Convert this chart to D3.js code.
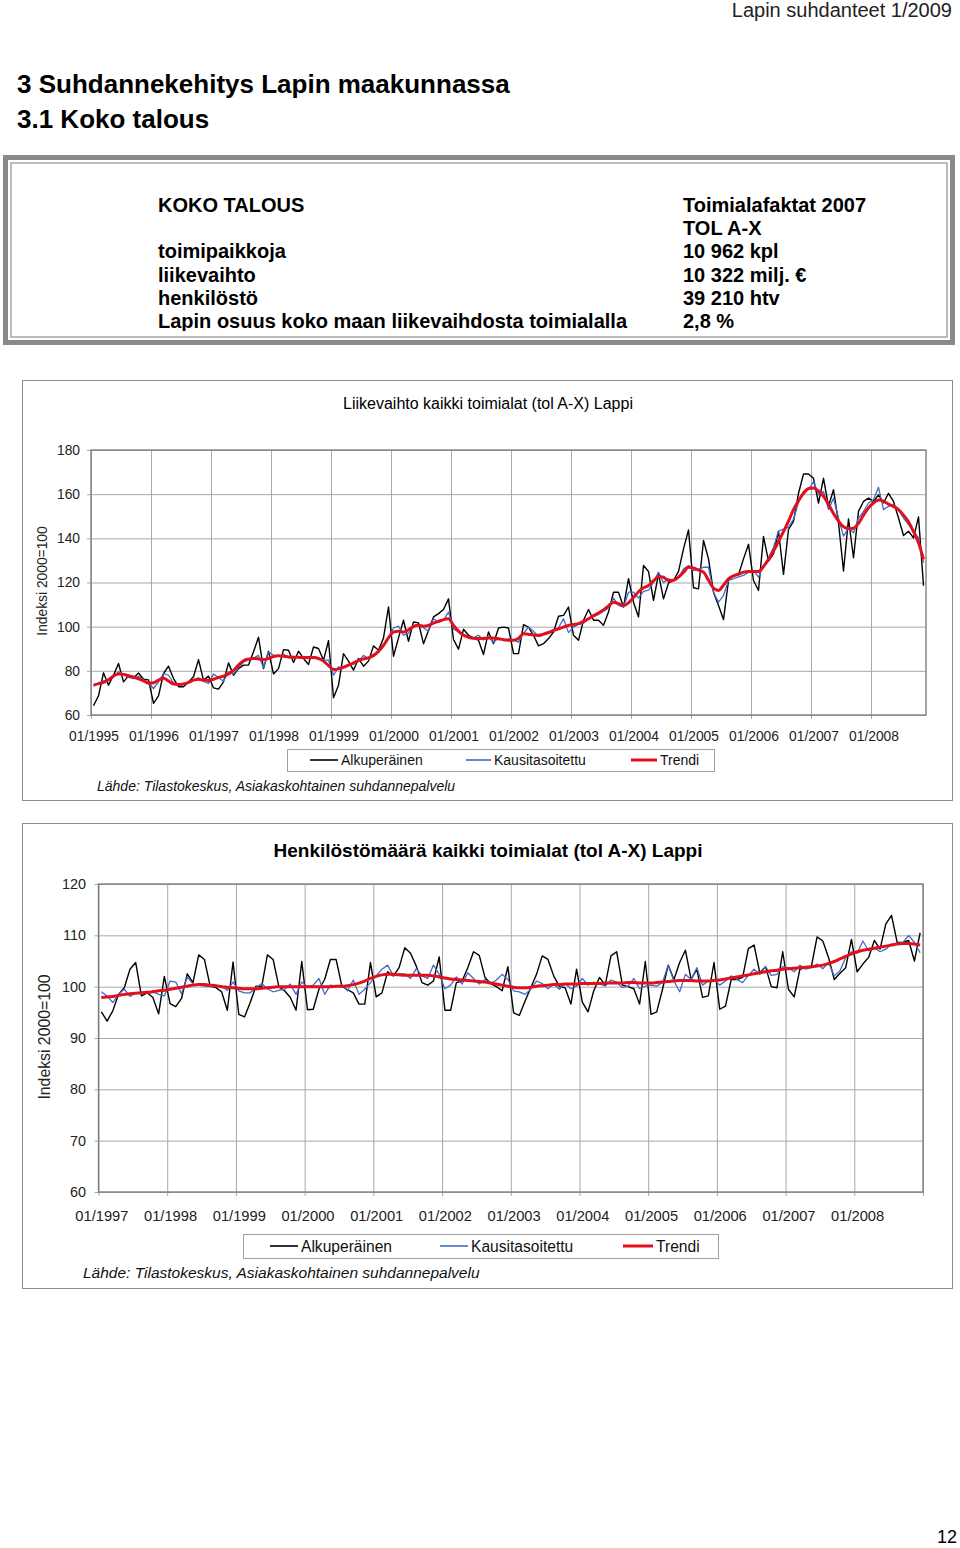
<!DOCTYPE html>
<html><head><meta charset="utf-8">
<script src="https://cdn.jsdelivr.net/npm/d3@7"></script>
<style>
body{margin:0;background:#fff}
svg{display:block}
text{font-family:"Liberation Sans",Arial,Helvetica,sans-serif}
</style>
</head><body><div id="c"></div>
<script>
// ---------- Header / fact box ----------
const factLabels = ["KOKO TALOUS", "", "toimipaikkoja", "liikevaihto", "henkilöstö", "Lapin osuus koko maan liikevaihdosta toimialalla"];
const factValues = ["Toimialafaktat 2007", "TOL A-X", "10 962 kpl", "10 322 milj. €", "39 210 htv", "2,8 %"];

// ---------- Chart 1: Liikevaihto (01/1995 - 11/2008) ----------
const lvStartYear = 1995;
const lvTickLabels = ["01/1995","01/1996","01/1997","01/1998","01/1999","01/2000","01/2001","01/2002","01/2003","01/2004","01/2005","01/2006","01/2007","01/2008"];
const lvYTicks = [60, 80, 100, 120, 140, 160, 180];
const lvAlkuperainen = [
 64.2,68.7,79.1,73.5,78.0,83.3,75.0,77.7,76.8,79.0,76.2,75.9,
 65.3,68.7,78.8,82.1,76.5,72.8,72.8,75.0,77.3,85.1,75.8,77.6,
 72.3,71.7,75.0,83.6,78.0,81.0,82.6,82.6,88.6,95.2,81.0,88.9,
 78.6,81.0,89.6,89.3,83.8,88.9,85.6,82.9,90.8,90.1,84.8,93.7,
 67.8,73.5,87.8,84.4,80.3,85.6,82.1,84.4,91.3,89.3,94.9,108.9,
 86.6,94.9,102.9,93.4,102.1,101.7,92.3,98.3,104.4,105.9,107.8,112.6,
 94.2,89.8,98.8,96.1,94.9,93.8,87.4,97.6,92.3,99.4,99.8,99.4,
 87.8,87.8,100.9,99.8,96.1,91.3,92.3,94.6,97.6,104.7,105.1,108.9,
 96.1,93.8,102.9,107.8,102.9,102.9,100.6,106.6,115.6,115.6,108.9,121.7,
 111.1,104.4,127.7,125.0,111.9,123.9,112.6,119.8,120.9,125.0,135.2,143.8,
 117.6,117.1,139.0,130.7,115.6,109.6,103.2,120.9,123.2,123.5,130.7,137.3,
 120.9,116.4,140.8,129.7,133.0,143.2,123.7,144.0,147.7,160.4,169.1,169.1,
 167.2,156.0,167.2,154.5,162.0,147.0,125.2,148.8,131.2,152.2,156.7,158.2,
 156.7,159.7,156.0,160.4,156.7,149.2,141.3,143.2,140.2,149.7,118.5
];
const lvKausitasoitettu = [
 73.0,74.5,75.5,76.0,77.5,79.6,78.5,77.0,76.5,77.5,76.0,74.5,
 72.0,75.0,78.8,78.0,74.5,73.5,73.8,74.6,75.8,76.8,75.2,74.3,
 78.5,77.0,75.3,79.6,78.5,81.5,84.0,85.0,85.8,87.0,81.4,88.6,
 87.0,86.5,87.5,86.0,85.8,86.3,86.0,85.5,86.4,86.0,85.0,84.8,
 78.0,81.8,81.5,82.8,83.0,84.5,87.0,85.5,86.5,88.5,91.0,94.5,
 99.4,100.2,96.1,97.1,100.5,100.8,99.5,97.9,103.6,102.0,103.0,106.6,
 99.0,97.6,96.5,95.5,95.0,96.1,94.0,95.5,92.8,95.0,93.8,94.5,
 94.0,93.0,97.0,99.8,97.9,95.5,96.5,97.0,98.0,99.5,103.6,97.3,
 99.8,101.0,101.5,103.6,104.5,105.5,107.0,108.5,112.9,109.6,108.9,115.6,
 115.6,113.0,116.0,116.5,120.0,124.7,119.9,121.7,120.9,122.5,126.1,127.7,
 125.4,126.1,126.9,126.9,115.6,111.1,114.1,120.9,121.7,122.5,123.2,124.7,
 125.4,122.4,127.7,131.2,136.0,143.2,144.2,145.0,148.7,156.2,161.2,162.0,
 165.7,159.7,161.2,153.0,158.2,149.2,141.0,144.7,142.5,149.2,152.2,156.0,
 157.5,163.1,153.0,154.5,155.2,153.0,149.2,146.2,143.2,140.2,129.0
];
const lvTrendi = [
 73.5,74.2,74.8,76.0,77.6,78.6,78.4,77.8,77.2,76.4,75.5,74.4,
 74.6,75.8,76.6,75.4,74.0,73.8,74.1,74.8,75.8,76.2,75.8,75.6,
 76.2,77.0,77.6,78.6,80.2,82.6,84.6,85.3,85.6,85.4,85.1,85.6,
 86.5,86.8,86.6,86.3,86.2,86.1,86.0,86.0,86.0,85.5,84.4,82.4,
 80.6,80.9,81.6,82.6,83.6,84.6,85.4,85.9,87.0,88.8,91.6,95.0,
 97.5,97.9,97.6,98.6,100.0,100.6,100.2,100.6,101.6,102.4,103.2,103.6,
 100.6,98.0,96.1,95.2,94.7,94.6,94.7,94.9,94.9,94.5,94.1,93.9,
 93.8,94.8,96.8,96.6,96.2,96.1,96.6,97.4,98.3,99.0,99.8,100.6,
 101.0,101.4,102.4,103.6,105.0,106.2,107.6,109.4,111.1,110.4,109.6,110.8,
 113.2,115.8,117.6,118.6,120.8,122.7,122.4,120.9,121.0,122.4,124.6,126.9,
 126.6,125.6,124.7,121.0,117.4,116.4,118.8,121.7,123.0,123.8,124.7,125.0,
 125.0,125.0,127.2,130.4,134.2,138.6,143.0,147.8,153.0,157.0,160.4,162.6,
 162.8,161.4,159.0,155.4,151.2,147.8,145.2,144.4,144.6,146.8,150.5,153.8,
 156.0,157.4,156.8,155.5,154.5,153.0,150.5,147.5,143.0,138.0,130.5
];

// ---------- Chart 2: Henkilöstömäärä (01/1997 - 12/2008) ----------
const hkStartYear = 1997;
const hkTickLabels = ["01/1997","01/1998","01/1999","01/2000","01/2001","01/2002","01/2003","01/2004","01/2005","01/2006","01/2007","01/2008"];
const hkYTicks = [60, 70, 80, 90, 100, 110, 120];
const hkAlkuperainen = [
 95.1,93.3,95.3,98.5,99.8,103.4,104.7,98.2,98.8,97.9,94.7,102.0,
 96.7,96.1,97.7,102.5,100.8,106.2,105.3,100.1,99.8,99.0,95.4,104.8,
 94.6,94.1,96.9,100.1,100.0,106.2,105.3,100.0,99.2,97.9,95.4,104.9,
 95.5,95.6,99.5,101.4,105.3,105.3,100.1,99.4,98.8,96.6,96.6,104.7,
 98.0,98.8,102.9,102.1,103.7,107.6,106.5,104.0,100.8,100.3,101.1,105.8,
 95.4,95.4,100.8,101.1,103.7,106.8,106.1,101.8,100.6,100.0,99.2,103.9,
 94.9,94.4,97.2,99.8,102.4,106.0,105.3,102.1,100.0,99.8,96.6,103.4,
 97.0,95.1,99.2,101.8,100.3,106.0,106.8,100.3,100.0,99.6,96.6,104.9,
 94.6,95.1,99.5,104.2,101.4,104.7,107.1,101.4,103.4,97.9,98.2,104.7,
 95.6,96.2,101.4,101.4,101.8,107.4,108.1,102.7,103.9,100.0,99.8,106.8,
 99.5,98.0,103.4,103.7,103.9,109.7,108.9,105.7,101.4,102.6,103.7,109.2,
 102.9,104.4,105.7,109.0,107.3,112.2,113.9,108.6,108.6,109.0,105.0,110.5
];
const hkKausitasoitettu = [
 99.0,98.2,96.9,98.5,99.5,98.1,98.8,98.6,98.8,99.0,98.5,98.2,
 101.1,100.9,98.6,101.9,100.5,100.3,100.1,100.0,100.0,100.1,99.3,100.9,
 99.2,98.8,98.8,99.8,100.6,99.6,99.0,99.3,99.5,100.5,98.5,100.9,
 100.0,100.3,101.6,98.5,100.3,100.1,100.3,99.2,101.3,98.5,99.5,100.8,
 102.1,103.4,104.2,102.1,102.5,102.5,101.6,103.5,102.1,101.6,104.2,102.4,
 99.6,100.3,101.9,100.5,102.7,101.6,100.5,101.4,100.6,101.3,102.4,101.4,
 99.2,99.0,98.5,99.5,101.1,100.6,99.6,100.5,99.5,100.6,99.6,100.1,
 101.6,100.3,100.9,100.6,100.1,101.3,100.9,99.8,100.1,101.6,99.6,100.1,
 100.3,100.1,100.8,104.2,101.1,99.0,102.4,101.4,103.7,100.3,101.1,101.4,
 100.3,101.1,102.1,101.4,100.8,102.2,103.4,102.4,103.9,102.2,102.4,103.9,
 103.7,102.9,104.2,103.4,103.7,104.4,103.5,104.7,102.1,103.1,105.7,106.8,
 106.5,108.9,107.0,107.6,106.8,107.3,108.3,108.4,108.6,110.0,108.6,106.6
];
const hkTrendi = [
 97.9,98.0,98.1,98.3,98.5,98.6,98.7,98.8,98.9,99.0,99.2,99.3,
 99.5,99.7,99.9,100.1,100.3,100.4,100.4,100.3,100.2,100.0,99.9,99.8,
 99.7,99.6,99.6,99.6,99.7,99.8,99.9,100.0,100.0,100.0,100.0,100.0,
 100.0,100.0,100.0,100.0,100.0,100.1,100.1,100.2,100.4,100.7,101.1,101.6,
 102.0,102.3,102.4,102.4,102.3,102.2,102.2,102.2,102.2,102.2,102.1,101.9,
 101.7,101.5,101.4,101.3,101.2,101.1,101.0,100.9,100.7,100.5,100.3,100.1,
 99.9,99.8,99.8,99.9,100.1,100.2,100.3,100.4,100.4,100.5,100.5,100.5,
 100.6,100.6,100.6,100.6,100.7,100.7,100.7,100.7,100.8,100.8,100.7,100.7,
 100.7,100.8,100.9,101.0,101.1,101.2,101.2,101.2,101.1,101.1,101.1,101.2,
 101.3,101.5,101.7,101.9,102.1,102.3,102.5,102.7,102.9,103.1,103.2,103.4,
 103.5,103.6,103.7,103.8,103.9,104.0,104.2,104.5,104.9,105.4,105.9,106.4,
 106.8,107.1,107.3,107.5,107.7,107.9,108.1,108.3,108.4,108.4,108.3,108.1
];

const seriesNames = ["Alkuperäinen", "Kausitasoitettu", "Trendi"];
const seriesColors = ["#000000", "#4169c8", "#e2101b"];
const sourceText = "Lähde: Tilastokeskus, Asiakaskohtainen suhdannepalvelu";

function monthCats(startYear, n) {
  return d3.range(n).map(i => String(i % 12 + 1).padStart(2, "0") + "/" + (startYear + Math.floor(i / 12)));
}

// ---------- Drawing ----------
const W = 960, H = 1548;
const svg = d3.select("#c").append("svg").attr("width", W).attr("height", H);
svg.append("rect").attr("width", W).attr("height", H).attr("fill", "#fff");

svg.append("text").attr("x", 952).attr("y", 17).attr("text-anchor", "end")
  .attr("font-size", 20).attr("fill", "#222").text("Lapin suhdanteet 1/2009");
svg.append("text").attr("x", 17).attr("y", 93).attr("font-size", 26).attr("font-weight", "bold")
  .attr("fill", "#000").text("3 Suhdannekehitys Lapin maakunnassa");
svg.append("text").attr("x", 17).attr("y", 128).attr("font-size", 26).attr("font-weight", "bold")
  .attr("fill", "#000").text("3.1 Koko talous");

// fact box
svg.append("rect").attr("x", 5.5).attr("y", 157.5).attr("width", 947).attr("height", 185)
  .attr("fill", "none").attr("stroke", "#8a8a8a").attr("stroke-width", 5);
svg.append("rect").attr("x", 11).attr("y", 163).attr("width", 936).attr("height", 174)
  .attr("fill", "none").attr("stroke", "#a6a6a6").attr("stroke-width", 1.5);
svg.append("clipPath").attr("id", "factclip").append("rect")
  .attr("x", 12).attr("y", 164).attr("width", 934).attr("height", 167);
const fg = svg.append("g").attr("clip-path", "url(#factclip)")
  .attr("font-size", 20).attr("font-weight", "bold").attr("fill", "#000");
const rowY = d3.scaleLinear().domain([0, 5]).range([212, 328]);
factLabels.forEach((t, i) => { if (t) fg.append("text").attr("x", 158).attr("y", rowY(i)).text(t); });
factValues.forEach((t, i) => fg.append("text").attr("x", 683).attr("y", rowY(i)).text(t));

function drawChart(c) {
  const g = svg.append("g");
  g.append("rect").attr("x", c.frame[0] + 0.5).attr("y", c.frame[1] + 0.5)
    .attr("width", c.frame[2]).attr("height", c.frame[3])
    .attr("fill", "#fff").attr("stroke", "#8c8c8c").attr("stroke-width", 1);

  const n = c.orig.length;
  const cats = monthCats(c.startYear, n);
  const x = d3.scaleLinear().domain([-0.5, n - 0.5]).range([c.left, c.right]);
  const y = d3.scaleLinear().domain([c.yTicks[0], c.yTicks[c.yTicks.length - 1]]).range([c.bottom, c.top]);
  const pw = c.right - c.left, ph = c.bottom - c.top;

  // title
  g.append("text").attr("x", c.titleX).attr("y", c.titleY).attr("text-anchor", "middle")
    .attr("font-size", c.titleSize).attr("font-weight", c.titleWeight).attr("fill", "#000").text(c.title);

  // y gridlines + ticks + labels
  const ya = g.append("g").attr("transform", `translate(${c.left - 4},0)`)
    .call(d3.axisLeft(y).tickValues(c.yTicks).tickSize(-(pw + 4)).tickPadding(c.yPad).tickFormat(d3.format("d")));
  ya.select(".domain").remove();
  ya.selectAll("line").attr("stroke", "#a8a8a8").attr("stroke-width", 1);
  ya.selectAll("text").attr("font-size", c.yFont).attr("fill", "#222")
    .attr("font-family", '"Liberation Sans",Arial,sans-serif');

  // x gridlines (between year categories)
  const gridIdx = d3.range(0, n + 1, 12).map(i => i - 0.5);
  const xa = g.append("g").attr("transform", `translate(0,${c.bottom + 4})`)
    .call(d3.axisBottom(x).tickValues(gridIdx).tickSize(-(ph + 4)).tickFormat(""));
  xa.select(".domain").remove();
  xa.selectAll("line").attr("stroke", "#a8a8a8").attr("stroke-width", 1);

  // x labels
  const labIdx = c.tickLabels.map(l => cats.indexOf(l));
  const xl = g.append("g").attr("transform", `translate(0,${c.bottom})`)
    .call(d3.axisBottom(x).tickValues(labIdx).tickSize(0).tickPadding(c.xPad).tickFormat(i => cats[i]));
  xl.select(".domain").remove();
  xl.selectAll("text").attr("font-size", c.xFont).attr("fill", "#222")
    .attr("font-family", '"Liberation Sans",Arial,sans-serif');

  // plot border
  g.append("rect").attr("x", c.left).attr("y", c.top).attr("width", pw).attr("height", ph)
    .attr("fill", "none").attr("stroke", "#808080").attr("stroke-width", 1.4);

  // y title
  g.append("text").attr("transform", `translate(${c.yTitleX},${c.yTitleY}) rotate(-90)`)
    .attr("text-anchor", "middle").attr("font-size", c.yTitleSize).attr("fill", "#222").text("Indeksi 2000=100");

  // series
  const line = d3.line().x((d, i) => x(i)).y(d => y(d));
  const smooth = d3.line().x((d, i) => x(i)).y(d => y(d)).curve(d3.curveMonotoneX);
  g.append("path").datum(c.orig).attr("d", line).attr("fill", "none")
    .attr("stroke", seriesColors[0]).attr("stroke-width", 1.4).attr("stroke-linejoin", "round");
  g.append("path").datum(c.sa).attr("d", line).attr("fill", "none")
    .attr("stroke", seriesColors[1]).attr("stroke-width", 1.3).attr("stroke-linejoin", "round");
  g.append("path").datum(c.trend).attr("d", smooth).attr("fill", "none")
    .attr("stroke", seriesColors[2]).attr("stroke-width", 3).attr("stroke-linejoin", "round");

  // legend
  const L = c.legend;
  g.append("rect").attr("x", L.x + 0.5).attr("y", L.y + 0.5).attr("width", L.w).attr("height", L.h)
    .attr("fill", "#fff").attr("stroke", "#a0a0a0");
  seriesNames.forEach((name, k) => {
    const it = L.items[k];
    g.append("line").attr("x1", it[0]).attr("x2", it[1]).attr("y1", L.lineY).attr("y2", L.lineY)
      .attr("stroke", seriesColors[k]).attr("stroke-width", k === 2 ? 3 : 1.6);
    g.append("text").attr("x", it[1] + 3).attr("y", L.textY).attr("font-size", L.font)
      .attr("fill", "#111").text(name);
  });

  // source
  g.append("text").attr("x", c.srcX).attr("y", c.srcY).attr("font-size", c.srcFont)
    .attr("font-style", "italic").attr("fill", "#111").text(sourceText);
}

drawChart({
  frame: [22, 380, 930, 420],
  left: 91, right: 926, top: 450, bottom: 715,
  startYear: lvStartYear, tickLabels: lvTickLabels, yTicks: lvYTicks,
  orig: lvAlkuperainen, sa: lvKausitasoitettu, trend: lvTrendi,
  title: "Liikevaihto kaikki toimialat (tol A-X) Lappi", titleX: 488, titleY: 409, titleSize: 16, titleWeight: "normal",
  yPad: 7, yFont: 13.8, xPad: 16, xFont: 13.8,
  yTitleX: 47, yTitleY: 581, yTitleSize: 13.8,
  legend: { x: 287, y: 749, w: 427, h: 22, lineY: 760, textY: 765, font: 14,
            items: [[310, 338], [466, 491], [631, 657]] },
  srcX: 97, srcY: 791, srcFont: 14
});

drawChart({
  frame: [22, 823, 930, 465],
  left: 98.5, right: 923, top: 884, bottom: 1192,
  startYear: hkStartYear, tickLabels: hkTickLabels, yTicks: hkYTicks,
  orig: hkAlkuperainen, sa: hkKausitasoitettu, trend: hkTrendi,
  title: "Henkilöstömäärä kaikki toimialat (tol A-X) Lappi", titleX: 488, titleY: 857, titleSize: 19, titleWeight: "bold",
  yPad: 8.5, yFont: 14.4, xPad: 18.5, xFont: 14.7,
  yTitleX: 50, yTitleY: 1037, yTitleSize: 15.8,
  legend: { x: 243, y: 1234, w: 475, h: 24, lineY: 1246, textY: 1251.5, font: 15.6,
            items: [[270, 298], [440, 468], [623, 653]] },
  srcX: 83, srcY: 1278, srcFont: 15.5
});

svg.append("text").attr("x", 957).attr("y", 1543).attr("text-anchor", "end")
  .attr("font-family", '"Liberation Serif","Times New Roman",serif').attr("font-size", 18)
  .attr("fill", "#000").text("12");
</script>
</body></html>
